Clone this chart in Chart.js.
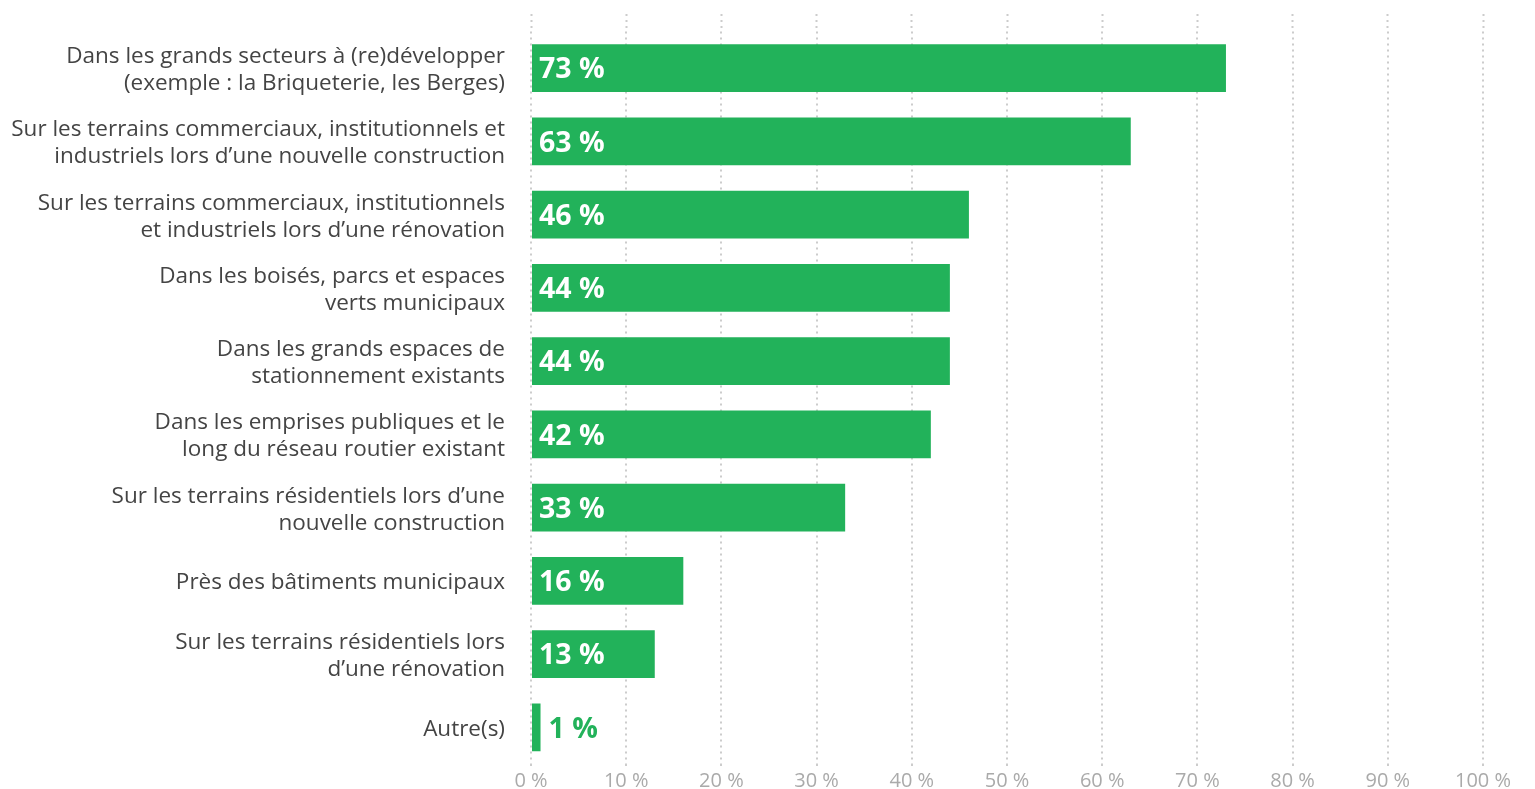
<!DOCTYPE html>
<html lang="fr">
<head>
<meta charset="utf-8">
<title>Emplacements</title>
<script src="https://cdn.jsdelivr.net/npm/chart.js@4"></script>
<style>
  html, body { margin: 0; padding: 0; background: #fff; }
  #wrap { width: 1535px; height: 789px; position: relative; }
</style>
</head>
<body>
<div id="wrap"><canvas id="chart"></canvas></div>
<script>
const categories = [
  ["Dans les grands secteurs à (re)développer", "(exemple : la Briqueterie, les Berges)"],
  ["Sur les terrains commerciaux, institutionnels et", "industriels lors d’une nouvelle construction"],
  ["Sur les terrains commerciaux, institutionnels", "et industriels lors d’une rénovation"],
  ["Dans les boisés, parcs et espaces", "verts municipaux"],
  ["Dans les grands espaces de", "stationnement existants"],
  ["Dans les emprises publiques et le", "long du réseau routier existant"],
  ["Sur les terrains résidentiels lors d’une", "nouvelle construction"],
  "Près des bâtiments municipaux",
  ["Sur les terrains résidentiels lors", "d’une rénovation"],
  "Autre(s)"
];
const values = [73, 63, 46, 44, 44, 42, 33, 16, 13, 1];
const xTicks = [0, 10, 20, 30, 40, 50, 60, 70, 80, 90, 100];

const GREEN = "#22b25a";
const FONT = "'Open Sans', 'Noto Sans', sans-serif";

// labels drawn on the bars (white inside, green outside when the bar is too short)
const barLabels = {
  id: "barLabels",
  afterDatasetsDraw(chart) {
    const ctx = chart.ctx;
    const meta = chart.getDatasetMeta(0);
    ctx.save();
    ctx.font = "bold 28.5px " + FONT;
    ctx.textBaseline = "middle";
    ctx.textAlign = "left";
    meta.data.forEach((bar, i) => {
      const { x, base, y } = bar.getProps(["x", "base", "y"], true);
      const text = values[i] + " %";
      const w = ctx.measureText(text).width;
      if (x - base > w + 16) {
        ctx.fillStyle = "#fff";
        ctx.fillText(text, base + 7, y + 2);
      } else {
        ctx.fillStyle = GREEN;
        ctx.fillText(text, x + 8, y + 2);
      }
    });
    ctx.restore();
  }
};

const setTicks = (scale) => {
  scale.ticks = xTicks.map((v) => ({ value: v }));
};

new Chart(document.getElementById("chart"), {
  type: "bar",
  data: {
    labels: categories,
    datasets: [
      {
        data: values,
        backgroundColor: GREEN,
        borderWidth: 0,
        barPercentage: 0.655,
        categoryPercentage: 1
      }
    ]
  },
  options: {
    indexAxis: "y",
    responsive: true,
    maintainAspectRatio: false,
    animation: false,
    layout: { padding: { top: 14, right: 52, left: 0, bottom: 0 } },
    plugins: {
      legend: { display: false },
      tooltip: { enabled: false }
    },
    scales: {
      x: {
        type: "linear",
        position: "bottom",
        min: 0,
        max: 100,
        afterBuildTicks: setTicks,
        afterFit: (s) => {
          s.height = 25;
          s.paddingLeft = 0;
          s.paddingRight = 0;
        },
        border: { display: false, dash: [2, 4] },
        grid: {
          color: "#cccccc",
          lineWidth: 2,
          tickLength: 3,
          tickColor: "#cccccc",
          tickWidth: 2,
          tickBorderDash: [2, 4]
        },
        ticks: {
          padding: 2,
          color: "#aaaaaa",
          font: { family: FONT, size: 20 },
          callback: (v) => v + " %"
        }
      },
      x2: {
        type: "linear",
        position: "top",
        min: 0,
        max: 100,
        afterBuildTicks: setTicks,
        afterFit: (s) => {
          s.height = 17.5;
          s.paddingLeft = 0;
          s.paddingRight = 0;
        },
        border: { display: false, dash: [2, 4] },
        grid: {
          drawOnChartArea: false,
          tickLength: 17.5,
          tickColor: "#cccccc",
          tickWidth: 2,
          tickBorderDash: [2, 4]
        },
        ticks: { display: false }
      },
      y: {
        afterFit: (s) => {
          s.width = 531;
          s.paddingTop = 0;
          s.paddingBottom = 0;
        },
        border: { display: false },
        grid: { display: false, drawTicks: false },
        ticks: {
          padding: 26,
          labelOffset: 2,
          color: "#444444",
          font: { family: FONT, size: 22.5, lineHeight: 1.2 }
        }
      }
    }
  },
  plugins: [barLabels]
});
</script>
</body>
</html>
